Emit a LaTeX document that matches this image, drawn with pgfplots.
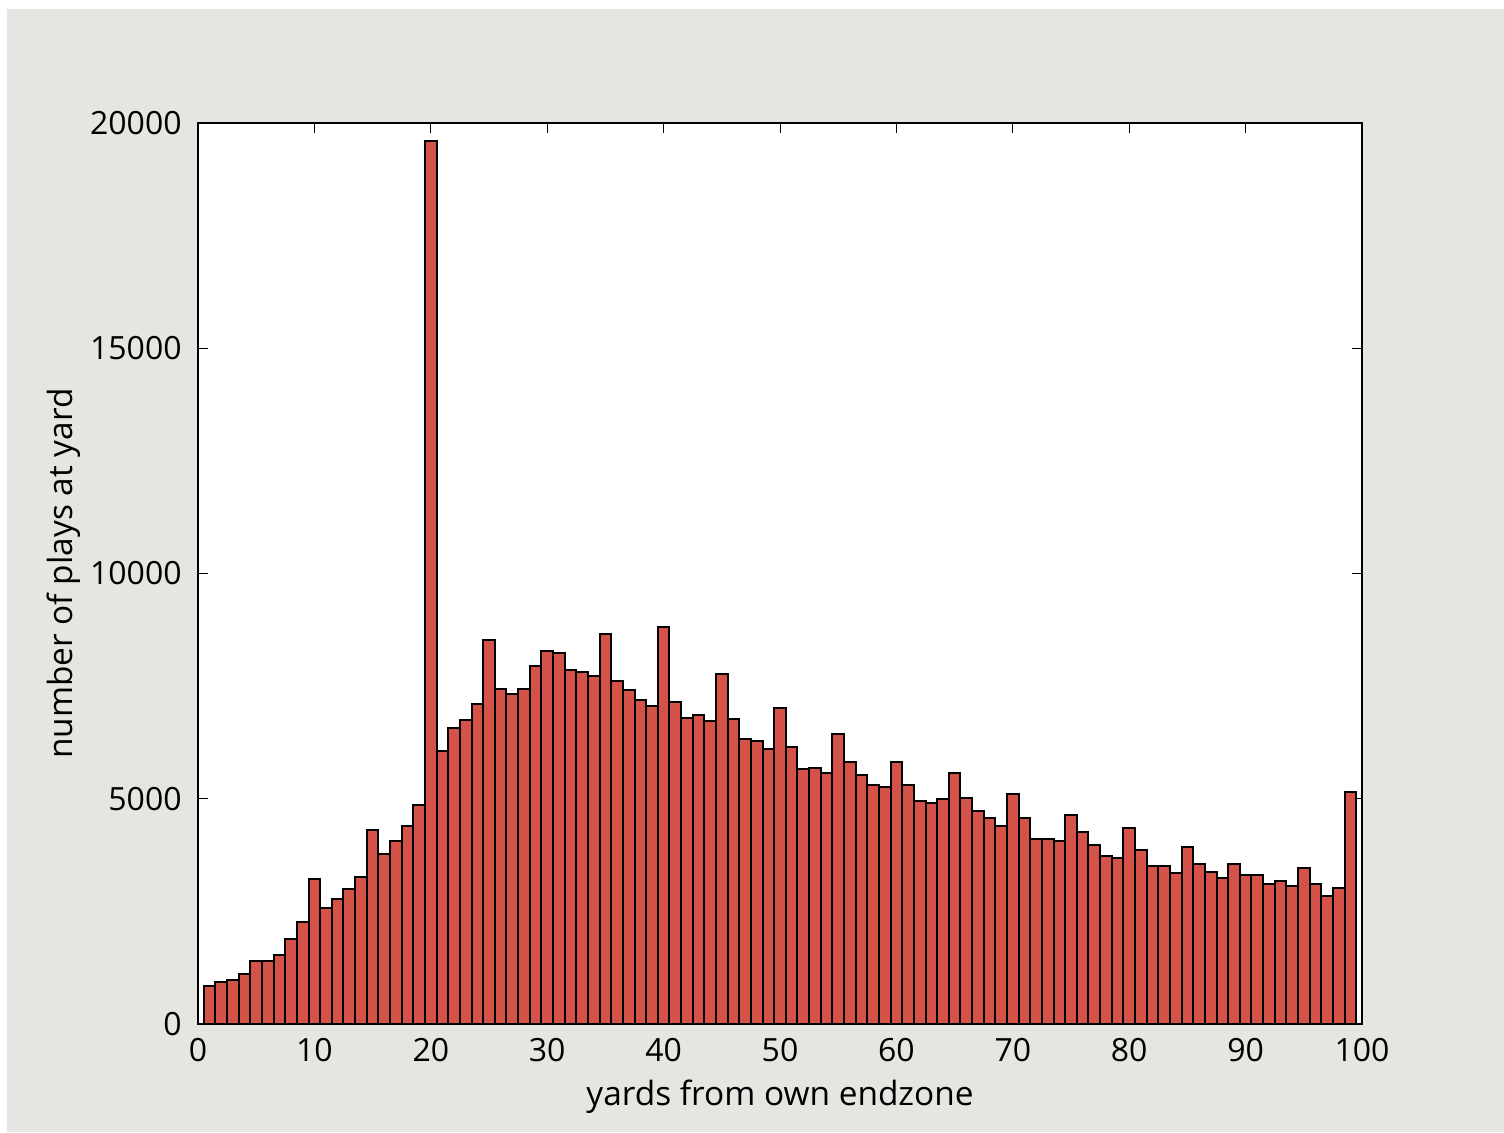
\documentclass[border=0pt]{standalone}
\usepackage{pgfplots}
\pgfplotsset{compat=1.18}
\usepackage{fontspec}
\setmainfont{Open Sans}
\definecolor{figbg}{RGB}{230,229,225}
\definecolor{barred}{RGB}{213,82,72}
\newcommand{\lblfont}{\fontsize{16bp}{19bp}\selectfont}
\newcommand{\axlblfont}{\fontsize{16.7bp}{20bp}\selectfont}
\begin{document}
\begin{tikzpicture}
% page and figure background (1 px = 0.5bp)
\path[use as bounding box, fill=white] (-99bp,-54.5bp) rectangle (653bp,512bp);
\fill[figbg] (-95.5bp,-54bp) rectangle (653bp,507.5bp);
\begin{axis}[scale only axis, width=582bp, height=450.5bp,
  axis background/.style={fill=white},
  xmin=0, xmax=100, ymin=0, ymax=20000,
  xtick={0,10,...,100}, ytick={0,5000,10000,15000,20000},
  scaled y ticks=false,
  /pgf/number format/1000 sep={},
  /pgf/number format/assume math mode=true,
  tick align=inside, major tick length=5bp,
  every tick/.style={black, line width=0.5bp},
  axis line style={line width=1bp},
  tick label style={font=\lblfont, inner sep=0pt},
  xticklabel style={anchor=north, yshift=-7bp},
  yticklabel style={anchor=east, xshift=-8bp},
  xlabel={yards from own endzone}, ylabel={number of plays at yard},
  label style={font=\axlblfont, inner sep=0pt},
  xlabel style={at={(axis description cs:0.5,-0.0899)}, anchor=base},
  ylabel style={at={(axis description cs:-0.1082,0.5)}, anchor=base, rotate=0},
]
\addplot[ybar, bar width=1, bar shift=0pt, fill=barred, draw=black, line width=1bp] table {
x y
1 850
2 940
3 977
4 1110
5 1400
6 1400
7 1530
8 1895
9 2270
10 3225
11 2570
12 2775
13 2990
14 3270
15 4315
16 3775
17 4070
18 4390
19 4860
20 19610
21 6060
22 6570
23 6750
24 7104
25 8525
26 7444
27 7318
28 7444
29 7948
30 8273
31 8229
32 7859
33 7814
34 7733
35 8651
36 7615
37 7407
38 7193
39 7067
40 8821
41 7141
42 6786
43 6852
44 6734
45 7770
46 6778
47 6320
48 6275
49 6105
50 7022
51 6145
52 5653
53 5691
54 5565
55 6438
56 5816
57 5520
58 5313
59 5269
60 5816
61 5313
62 4951
63 4899
64 4988
65 5565
66 5025
67 4729
68 4566
69 4396
70 5099
71 4566
72 4100
73 4100
74 4060
75 4650
76 4270
77 3974
78 3730
79 3693
80 4344
81 3855
82 3515
83 3515
84 3345
85 3937
86 3559
87 3382
88 3234
89 3559
90 3308
91 3308
92 3101
93 3182
94 3064
95 3470
96 3101
97 2849
98 3019
99 5143
};
\end{axis}
\end{tikzpicture}
\end{document}
